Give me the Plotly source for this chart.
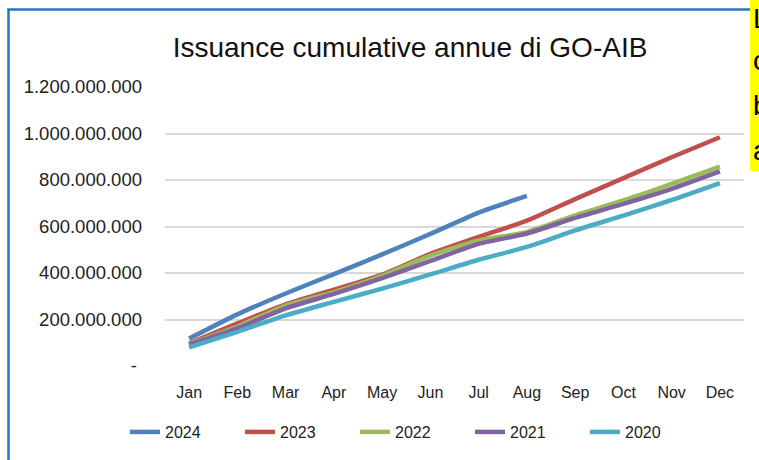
import plotly.graph_objects as go

months = ["Jan", "Feb", "Mar", "Apr", "May", "Jun", "Jul", "Aug", "Sep", "Oct", "Nov", "Dec"]
years = ["2024", "2023", "2022", "2021", "2020"]
v2024 = [118e6, 222e6, 312e6, 395e6, 480e6, 568e6, 660e6, 732e6]
v2023 = [98e6, 183e6, 265e6, 328e6, 393e6, 482e6, 555e6, 625e6, 718e6, 808e6, 898e6, 984e6]
v2022 = [95e6, 170e6, 260e6, 318e6, 388e6, 475e6, 540e6, 576e6, 648e6, 712e6, 783e6, 858e6]
v2021 = [92e6, 162e6, 248e6, 310e6, 378e6, 452e6, 525e6, 570e6, 637e6, 697e6, 762e6, 837e6]
v2020 = [80e6, 147e6, 218e6, 276e6, 333e6, 394e6, 457e6, 512e6, 583e6, 647e6, 714e6, 787e6]
series = [v2024, v2023, v2022, v2021, v2020]
colors = ["#4F81BD", "#C0504D", "#9BBB59", "#8064A2", "#4BACC6"]

tick_vals = [0, 200e6, 400e6, 600e6, 800e6, 1000e6, 1200e6]
tick_text = ["-\u00a0", "200.000.000", "400.000.000", "600.000.000",
             "800.000.000", "1.000.000.000", "1.200.000.000"]

side_letters = ["L", "c", "b", "a"]

fig = go.Figure()
for name, vals, col in zip(years, series, colors):
    fig.add_trace(go.Scatter(
        x=months[:len(vals)], y=vals, name=name, mode="lines",
        line=dict(color=col, width=4.5, shape="spline", smoothing=0.6),
    ))

# plot area in pixels: x 165..744, y 87..366
L, R, T, B = 165, 744, 87, 366
W, H = 759, 460
pw, ph = R - L, B - T

def px(x):
    return (x - L) / pw

def py(y):
    return (B - y) / ph

fig.update_layout(
    width=W, height=H,
    margin=dict(l=L, r=W - R, t=T, b=H - B, pad=0),
    paper_bgcolor="white", plot_bgcolor="white",
    font=dict(family="Liberation Sans, Arial, sans-serif", color="#222222"),
    title=dict(text="Issuance cumulative annue di GO-AIB",
               x=410 / W, xanchor="center", y=1 - 47 / H, yanchor="middle",
               font=dict(size=28, color="#111111",
                         family="Liberation Sans, Arial, sans-serif")),
    showlegend=True,
    legend=dict(orientation="h", xref="container", yref="container",
                x=125 / W, xanchor="left",
                y=1 - 432 / H, yanchor="middle",
                font=dict(size=16, color="#222222"),
                entrywidth=70, entrywidthmode="pixels",
                traceorder="normal"),
    xaxis=dict(categoryorder="array", categoryarray=months,
               range=[-0.5, 11.5], showgrid=False, showline=False,
               zeroline=False, ticks="", tickfont=dict(size=16),
               ticklabelstandoff=15),
    yaxis=dict(range=[0, 1.2e9], tickvals=tick_vals, ticktext=tick_text,
               showgrid=True, gridcolor="#D9D9D9", gridwidth=1.5,
               zeroline=False, showline=False, ticks="",
               tickfont=dict(size=18.5), ticklabelstandoff=22),
    shapes=[
        dict(type="rect", xref="paper", yref="paper",
             x0=px(8.5), x1=px(820), y0=py(480), y1=py(9.5),
             line=dict(color="#2377C7", width=2.5), fillcolor="rgba(0,0,0,0)",
             layer="above"),
        dict(type="rect", xref="paper", yref="paper",
             x0=px(750), x1=px(800), y0=py(480), y1=py(-5),
             line=dict(width=0), fillcolor="white", layer="above"),
        dict(type="rect", xref="paper", yref="paper",
             x0=px(750), x1=px(800), y0=py(171), y1=py(-5),
             line=dict(width=0), fillcolor="#FFFF00", layer="above"),
    ],
)

baselines = [28, 70, 115, 160]
for letter, bl in zip(side_letters, baselines):
    fig.add_annotation(text=letter, xref="paper", yref="paper",
                       x=px(751), xanchor="left", y=py(bl - 10), yanchor="middle",
                       showarrow=False, font=dict(size=28, color="black",
                                                  family="Liberation Sans, Arial"))

fig.write_html("out.html", config={"displayModeBar": False},
               post_script="document.body.style.margin='0';document.body.style.overflow='hidden';")
